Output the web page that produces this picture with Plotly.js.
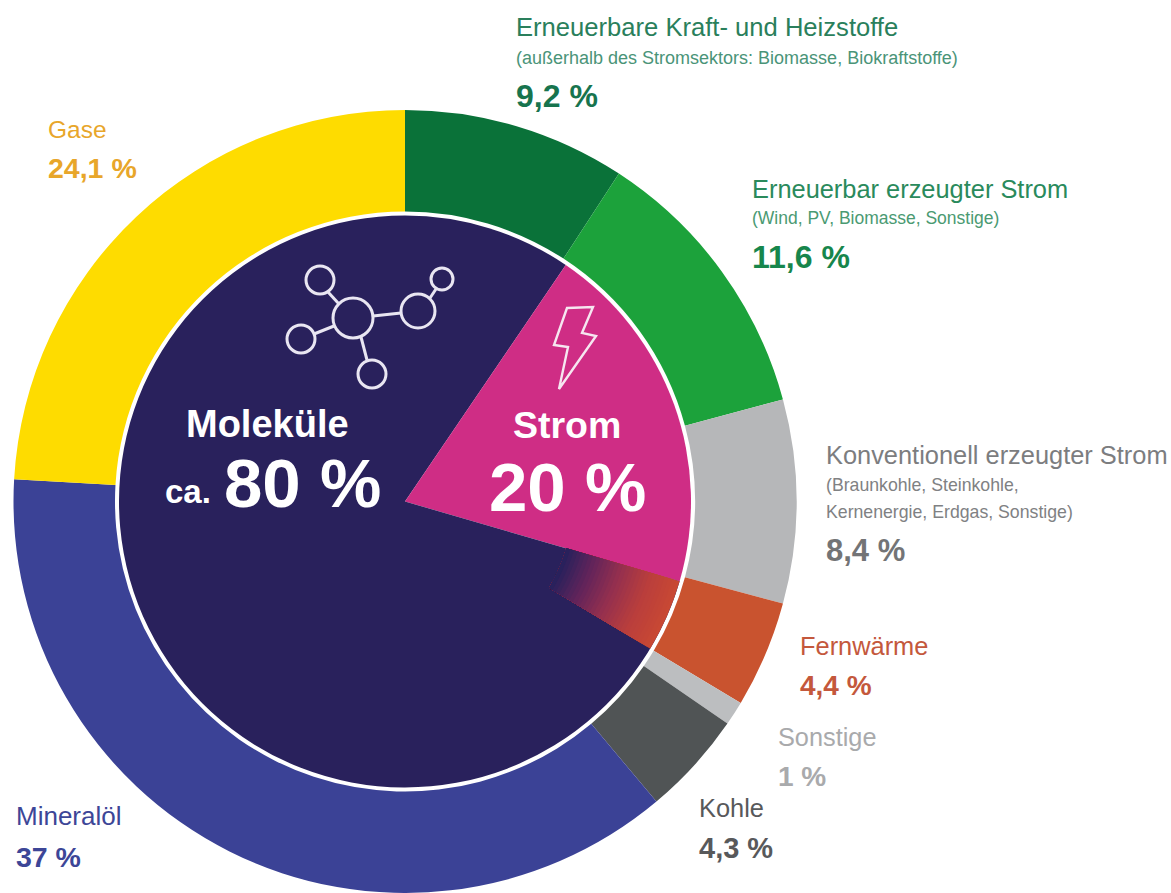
<!DOCTYPE html>
<html>
<head>
<meta charset="utf-8">
<script src="https://cdn.plot.ly/plotly-3.0.1.min.js"></script>
<style>html,body{margin:0;padding:0;background:#fff}#c{width:1171px;height:893px}</style>
</head>
<body>
<div id="c"></div>
<script>
// Data
const outerLabels = ["Erneuerbare Kraft- und Heizstoffe","Erneuerbar erzeugter Strom","Konventionell erzeugter Strom","Fernwärme","Sonstige","Kohle","Mineralöl","Gase"];
const outerValues = [9.2,11.6,8.4,4.4,1,4.3,37,24.1];
const outerColors = ["#0a7239","#1ca23b","#b6b7b9","#c9532f","#bcbec0","#505455","#3b4296","#fedc00"];
const innerLabels = ["Moleküle","Strom","Moleküle "];
const innerValues = [9.5,20,70.5];
const innerColors = ["#29215c","#cf2d85","#29215c"];
const wedgeValues = [29.5,4.1,66.4];
const gradientAnchors = [[41,33,92],[100,36,90],[150,48,78],[185,62,60],[200,72,52]];

const W = 1171, H = 893, CX = 405, CY = 501.5, R = 391.5, RHOLE = 290, RIN = 286, RGRAD0 = 168, BANDS = 30;
const dom = r => ({x:[(CX-r)/W,(CX+r)/W], y:[1-(CY+r)/H,1-(CY-r)/H]});
const base = {type:'pie',sort:false,direction:'clockwise',rotation:0,textinfo:'none',hoverinfo:'skip',showlegend:false};

const traces = [
  Object.assign({},base,{labels:outerLabels,values:outerValues,hole:RHOLE/R,domain:dom(R),marker:{colors:outerColors,line:{width:0}}}),
  Object.assign({},base,{labels:innerLabels,values:innerValues,domain:dom(RIN),marker:{colors:innerColors,line:{width:0}}})
];
// Fernwärme wedge: nested ring sectors, largest first, fading from red into the navy core
function bandColor(f){
  const p = f*(gradientAnchors.length-1), i = Math.min(Math.floor(p),gradientAnchors.length-2), u = p-i;
  const c = gradientAnchors[i].map((v,k)=>Math.round(v+(gradientAnchors[i+1][k]-v)*u));
  return 'rgb('+c.join(',')+')';
}
for(let b=BANDS-1;b>=0;b--){
  const ro = RGRAD0+(RIN-RGRAD0)*(b+1)/BANDS;
  traces.push(Object.assign({},base,{labels:['a','b','c'],values:wedgeValues,hole:RGRAD0/ro,domain:dom(ro),
    marker:{colors:['rgba(0,0,0,0)',bandColor(b/(BANDS-1)),'rgba(0,0,0,0)'],line:{width:0}}}));
}

const SANS = '"Liberation Sans",Arial,sans-serif';
const notes = [];
function t(text,x,y,size,color,bold,anchor){
  notes.push({text:bold?'<b>'+text+'</b>':text,xref:'paper',yref:'paper',x:x/W,y:1-y/H,xanchor:anchor||'left',yanchor:'middle',
    showarrow:false,borderpad:0,font:{family:SANS,size:size,color:color}});
}
t('Erneuerbare Kraft- und Heizstoffe',515,27,25.6,'#2a7f5c');
t('(außerhalb des Stromsektors: Biomasse, Biokraftstoffe)',515,58,18,'#4a9478');
t('9,2 %',515,96,32,'#17744e',true);
t('Erneuerbar erzeugter Strom',751,189,25.4,'#2a8a5c');
t('(Wind, PV, Biomasse, Sonstige)',751,218,17.5,'#4a9a72');
t('11,6 %',751,257,32,'#17864c',true);
t('Konventionell erzeugter Strom',825,455,25.4,'#7c7d7f');
t('(Braunkohle, Steinkohle,',825,485,17.7,'#808183');
t('Kernenergie, Erdgas, Sonstige)',825,512,17.7,'#808183');
t('8,4 %',825,550,31,'#737476',true);
t('Fernwärme',799,646,25.4,'#c4583c');
t('4,4 %',799,685,28,'#c4583c',true);
t('Sonstige',777,737,25.3,'#a9aaac');
t('1 %',777,776,28,'#a9aaac',true);
t('Kohle',698,808,25.4,'#58595b');
t('4,3 %',698,848,29,'#58595b',true);
t('Mineralöl',15,816,26,'#3d4697');
t('37 %',15,857,28.5,'#3d4697',true);
t('Gase',47,129,24.5,'#e8a62a');
t('24,1 %',47,168,28.5,'#e8a62a',true);
t('Moleküle',267,424,38,'#ffffff',true,'center');
t('ca.',164,491,33,'#ffffff',true);
t('80 %',302,483,69,'#ffffff',true,'center');
t('Strom',567,425,37.5,'#ffffff',true,'center');
t('20 %',567,487,69,'#ffffff',true,'center');

// Icons
const iconLine = {color:'#e9e6f2',width:3};
const px = v => v/W, py = v => 1-v/H;
const circle = (x,y,r) => ({type:'circle',xref:'paper',yref:'paper',x0:px(x-r),x1:px(x+r),y0:py(y+r),y1:py(y-r),line:iconLine});
const seg = (a,b,c,d) => ({type:'line',xref:'paper',yref:'paper',x0:px(a),y0:py(b),x1:px(c),y1:py(d),line:iconLine});
const shapes = [
  circle(353,318,20),circle(320,280,14),circle(418,311,17),circle(442,279,11),circle(301,339,14),circle(372,374,14),
  seg(328,292,339,304),seg(373,316,401,313),seg(430,298,436,289),seg(314,334,334,326),seg(361,337,367,360),
  {type:'path',xref:'paper',yref:'paper',line:{color:'#f6e6f0',width:2.4},
   path:'M'+[[567,308],[593,307],[582,333],[596,336],[559,389],[568,347],[554,345]].map(p=>px(p[0])+','+py(p[1])).join(' L')+' Z'}
];

Plotly.newPlot('c',traces,{width:W,height:H,margin:{l:0,r:0,t:0,b:0},paper_bgcolor:'#fff',showlegend:false,annotations:notes,shapes:shapes},{displayModeBar:false});
</script>
</body>
</html>
